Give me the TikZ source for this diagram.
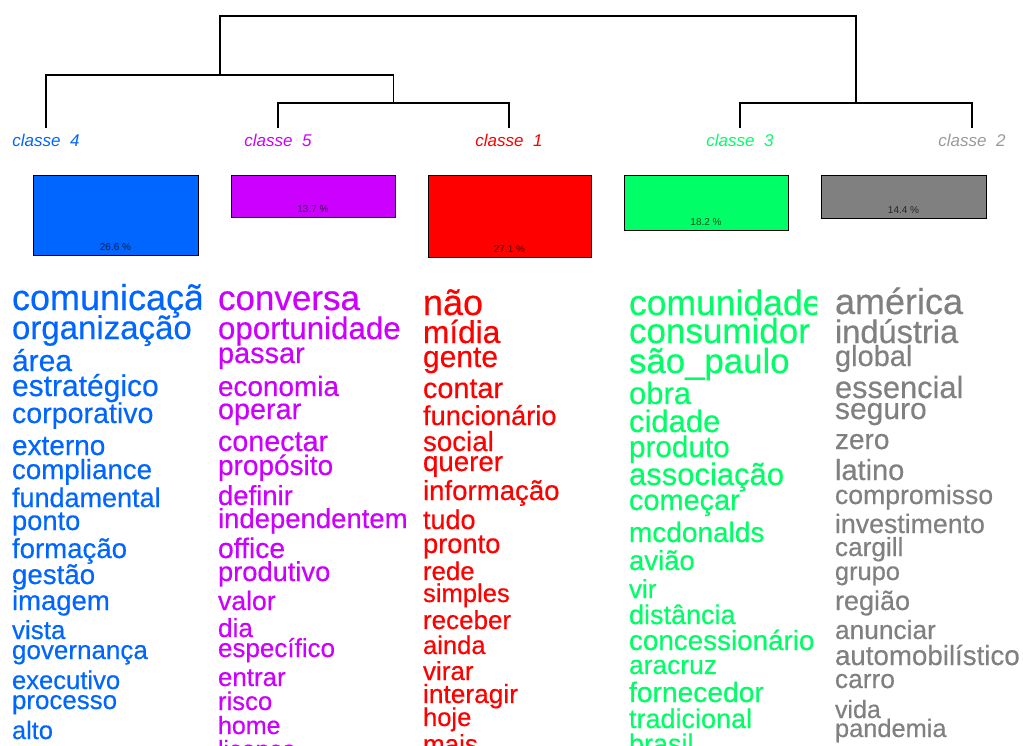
\documentclass[tikz,border=0pt]{standalone}
\usepackage{fontspec}
\setmainfont{Liberation Sans}
\newfontfamily\wordfont[FakeBold=0.4]{Liberation Sans}
\definecolor{cblue}{RGB}{0,102,255}
\definecolor{cpurple}{RGB}{204,0,255}
\definecolor{cred}{RGB}{255,0,0}
\definecolor{cgreen}{RGB}{0,255,102}
\definecolor{cgray}{RGB}{128,128,128}
\tikzset{
  word/.style={anchor=base west, inner sep=0pt, outer sep=0pt},
  link/.style={line width=1.2pt, black},
  bar/.style={draw=black, line width=1pt},
  pct/.style={anchor=base, inner sep=0pt, font=\fontsize{10}{10}\selectfont, text=black, text opacity=0.7},
  cls/.style={anchor=base, inner sep=0pt, font=\fontsize{17}{17}\selectfont\itshape},
}
\newcommand{\wordcol}[5]{% #1 name prefix, #2 x, #3 clip right, #4 colour, #5 list
  \begin{scope}
    \clip (#2-6,250) rectangle (#3,745);
    \foreach [count=\i] \yy/\ss/\tt in {#5} {
      \node[word, text=#4, font=\wordfont\fontsize{\ss}{\ss}\selectfont] (#1\i) at (#2,\yy) {\tt};
    }
  \end{scope}
}
\begin{document}
\begin{tikzpicture}[x=1pt,y=-1pt]
\useasboundingbox (0,0) rectangle (1023,745);
% dendrogram coordinates
\coordinate (l4) at (46,128);
\coordinate (l5) at (278,128);
\coordinate (l1) at (509,128);
\coordinate (l3) at (740,128);
\coordinate (l2) at (972,128);
\coordinate (j51) at (393.5,103);
\coordinate (j451) at (220,75);
\coordinate (j32) at (856,103);
\coordinate (root) at (538,16);
\draw[link] (l5) |- (j51) -| (l1);
\draw[link] (l3) |- (j32) -| (l2);
\draw[link] (l4) |- (j451) -| (j51);
\draw[link] (j451) |- (root) -| (j32);
% class labels
\node[cls, text=cblue] (c4) at (46,146) {classe\ \ 4};
\node[cls, text=cpurple] (c5) at (278,146) {classe\ \ 5};
\node[cls, text=cred] (c1) at (509,146) {classe\ \ 1};
\node[cls, text=cgreen] (c3) at (740,146) {classe\ \ 3};
\node[cls, text=cgray!80] (c2) at (972,146) {classe\ \ 2};
% bars
\path[bar, fill=cblue] (33,175) rectangle (198,255);
\path[bar, fill=cpurple] (231,175) rectangle (395,217);
\path[bar, fill=cred] (428,175) rectangle (591,257);
\path[bar, fill=cgreen] (624,175) rectangle (788,230);
\path[bar, fill=cgray] (821,175) rectangle (986,218);
\node[pct] (p4) at (115.5,250.5) {26.6 \%};
\node[pct] (p5) at (313,212.5) {13.7 \%};
\node[pct] (p1) at (509.5,252.5) {27.1 \%};
\node[pct] (p3) at (706,225.5) {18.2 \%};
\node[pct] (p2) at (903.5,213.5) {14.4 \%};
% word columns
\wordcol{wa}{12}{201}{cblue}{310/36/comunicação, 339/33/organização, 371/30/área, 396/30/estratégico, 423/28.6/corporativo, 455/28/externo, 479/27.7/compliance, 507/27/fundamental, 530/27.3/ponto, 558/27.6/formação, 584/27.7/gestão, 610/27.5/imagem, 639/26/vista, 659/26/governança, 689/25.6/executivo, 709/25.9/processo, 739/25.4/alto}
\wordcol{wb}{218}{407}{cpurple}{310/35/conversa, 339/31.3/oportunidade, 363/28.9/passar, 396/27.9/economia, 419/28.8/operar, 451/28.7/conectar, 475/28/propósito, 505/27.5/definir, 528/27.5/independentemente, 558/28.3/office, 581/27.3/produtivo, 610/26.6/valor, 637/26.2/dia, 657/26/específico, 686/25.9/entrar, 710/25.7/risco, 734/25/home, 758/25/licença}
\wordcol{wc}{423}{613}{cred}{315/36/não, 343/31.6/mídia, 367/30/gente, 398/28.8/contar, 425/27.3/funcionário, 451/27.7/social, 471/27.7/querer, 500/27.6/informação, 529/27/tudo, 553/27.3/pronto, 580/25.8/rede, 602/25.6/simples, 629/26/receber, 654/25.6/ainda, 680/26/virar, 703/26.3/interagir, 726/25.6/hoje, 753/26/mais}
\wordcol{wd}{629}{817}{cgreen}{315/35.5/comunidade, 343/35/consumidor, 373/34.8/são\_paulo, 404/31/obra, 432/31/cidade, 457/29.7/produto, 485/31/associação, 510/28.9/começar, 542/28/mcdonalds, 570/27.5/avião, 598/26/vir, 624/27/distância, 650/27.8/concessionário, 674/26.4/aracruz, 702/28.2/fornecedor, 728/27/tradicional, 753/27/brasil}
\wordcol{we}{835}{1023}{cgray}{314/36/américa, 343/32.6/indústria, 366/29/global, 398/30.8/essencial, 419/30/seguro, 449/28/zero, 480/29/latino, 504/26.6/compromisso, 533/26.7/investimento, 556/26.2/cargill, 580/25.4/grupo, 610/27/região, 639/26.3/anunciar, 665/27.7/automobilístico, 688/26.3/carro, 718/25/vida, 737/25.4/pandemia}
\end{tikzpicture}
\end{document}
